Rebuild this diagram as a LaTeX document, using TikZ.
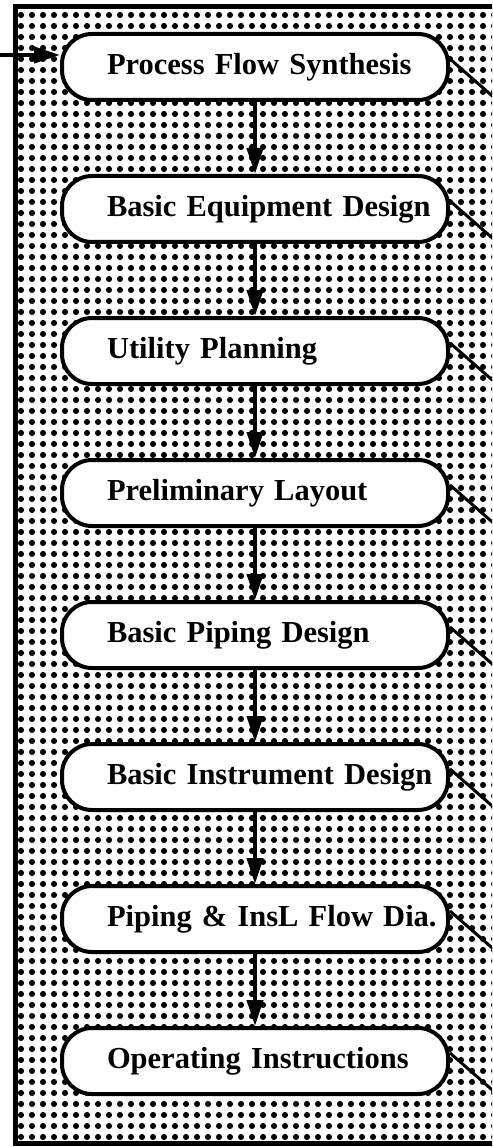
\documentclass[tikz,border=0pt]{standalone}
\usepackage{fontspec}
\setmainfont{Liberation Serif}
\usetikzlibrary{arrows.meta, positioning, calc, patterns.meta}

\begin{document}
\begin{tikzpicture}[
    >={Triangle[width=16pt, length=26pt]},
    node distance=72pt,
    stage/.style={draw, line width=4pt, rounded corners=30pt, fill=white,
      minimum width=386pt, minimum height=66pt, text width=386pt, inner xsep=0pt,
      align=left, font=\fontsize{30.5}{34}\selectfont\bfseries,
      execute at begin node={\hspace*{45pt}}},
    flow/.style={->, line width=4pt},
    tie/.style={line width=3pt},
]

% Page and shaded panel
\useasboundingbox (0,0) rectangle (492pt,-1147pt);
\clip (0,0) rectangle (492pt,-1147pt);
\fill[pattern={Dots[distance=10.5pt, radius=3.2pt]}] (15pt,-7pt) rectangle (500pt,-1143pt);
\draw[line width=5pt] (500pt,-7pt) -- (15pt,-7pt) -- (15pt,-1143pt) -- (500pt,-1143pt);

% Flow steps
\node[stage] (synth) at (255pt,-67pt) {Process Flow Synthesis};
\node[stage, below=of synth] (equip) {Basic Equipment Design};
\node[stage, below=of equip] (utility) {Utility Planning};
\node[stage, below=of utility] (layout) {Preliminary Layout};
\node[stage, below=of layout] (piping) {Basic Piping Design};
\node[stage, below=of piping] (instr) {Basic Instrument Design};
\node[stage, below=of instr] (pid) {Piping \& InsL Flow Dia.};
\node[stage, below=of pid] (opinstr) {Operating Instructions};

% Feed into the first step
\coordinate (feed) at (0,-55pt);
\draw[flow] (feed) -- (synth.west |- feed);

% Arrows
\draw[flow] (synth) -- (equip);
\draw[flow] (equip) -- (utility);
\draw[flow] (utility) -- (layout);
\draw[flow] (layout) -- (piping);
\draw[flow] (piping) -- (instr);
\draw[flow] (instr) -- (pid);
\draw[flow] (pid) -- (opinstr);

% Ties out to the right
\foreach \s in {synth, equip, utility, layout, piping, instr, pid, opinstr}
  \draw[tie] ($(\s.east)+(0,8pt)$) -- ++(48pt,-42pt);

\end{tikzpicture}
\end{document}
